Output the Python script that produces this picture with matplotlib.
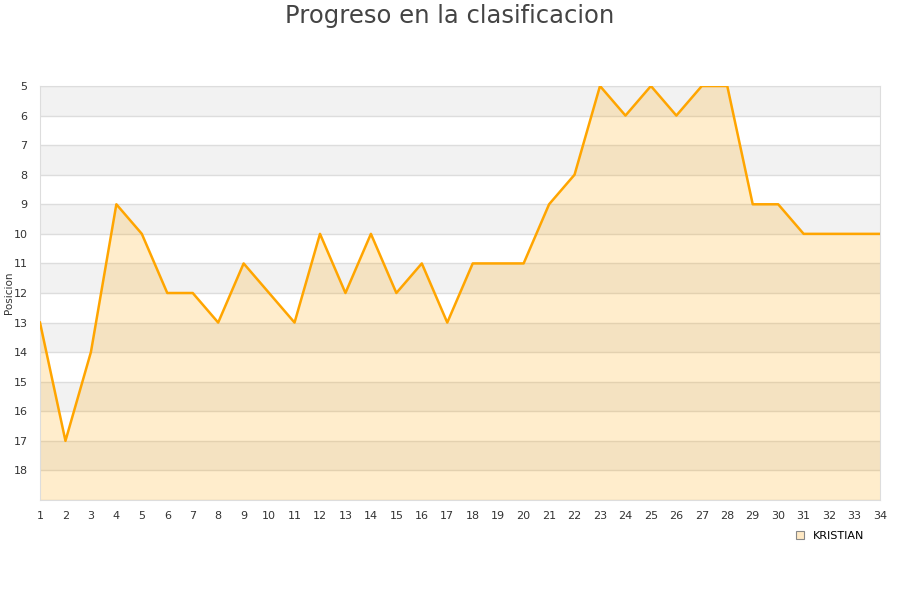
import matplotlib
matplotlib.use("Agg")
import matplotlib.pyplot as plt
from matplotlib.patches import Patch

jornadas = list(range(1, 35))
posiciones = [13, 17, 14, 9, 10, 12, 12, 13, 11, 12, 13, 10, 12, 10, 12, 11, 13,
              11, 11, 11, 9, 8, 5, 6, 5, 6, 5, 5, 9, 9, 10, 10, 10, 10]
serie = "KRISTIAN"
titulo = "Progreso en la clasificacion"
ylabel = "Posicion"
y_ticks = list(range(5, 19))

fig = plt.figure(figsize=(9, 6), dpi=100)
ax = fig.add_axes([40/900, 1-500/600, 840/900, 414/600])

ymin, ymax = 5, 19
# alternating bands
for y in range(ymin, ymax):
    if y % 2 == 1:
        ax.axhspan(y, y+1, color="#f2f2f2", zorder=0, lw=0)
for y in range(ymin, ymax+1):
    ax.axhline(y, color="#dddddd", lw=1, zorder=1)

ax.fill_between(jornadas, posiciones, ymax, color="#FFA500", alpha=0.2, lw=0, zorder=2)
ax.plot(jornadas, posiciones, color="#FFA500", lw=1.8, zorder=3)

ax.set_xlim(1, 34)
ax.set_ylim(ymax, ymin)
ax.set_xticks(jornadas)
ax.set_yticks(y_ticks)
ax.tick_params(axis="both", length=0, labelsize=8, colors="#333333")
ax.tick_params(axis="x", pad=8)
ax.tick_params(axis="y", pad=9)
for s in ax.spines.values():
    s.set_color("#dddddd")

fig.text(9/900, 1-293/600, ylabel, rotation=90, ha="center", va="center",
         fontsize=7.5, color="#333333")

fig.text(0.5, 1-16/600, titulo, ha="center", va="center", fontsize=17.5, color="#444444")

handle = Patch(facecolor="#FFE9C4", edgecolor="#888888", lw=0.8)
fig.legend([handle], [serie], loc="center", bbox_to_anchor=(830/900, 1-536/600),
           frameon=False, fontsize=8, handlelength=0.7, handleheight=0.7, handletextpad=0.8)

fig.savefig("out.png", dpi=100)
